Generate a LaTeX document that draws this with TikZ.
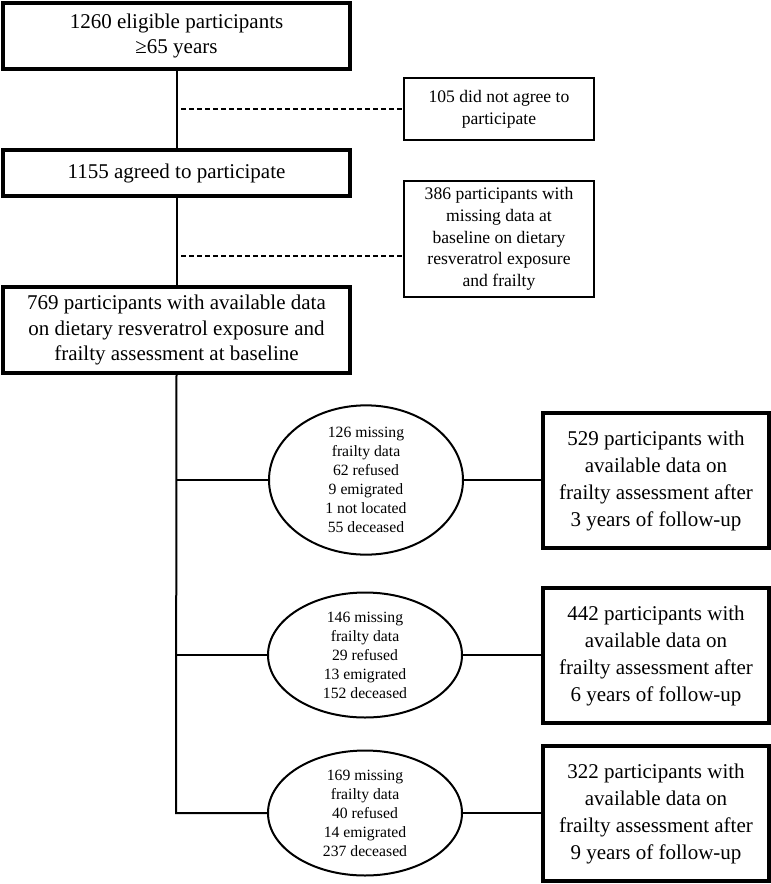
\documentclass[tikz,border=0pt]{standalone}
\usepackage{fontspec}
\setmainfont{Liberation Serif}
\usetikzlibrary{shapes.geometric}
\tikzset{
  bigbox/.style={draw, line width=3.2pt, rectangle, inner sep=0pt, align=center, font=\fontsize{21}{25.5}\selectfont},
  sidebox/.style={draw, line width=2pt, rectangle, inner sep=0pt, align=center, font=\fontsize{17.6}{21.7}\selectfont},
  resbox/.style={draw, line width=3.2pt, rectangle, inner sep=0pt, align=center, font=\fontsize{21}{27}\selectfont},
  lossell/.style={draw, line width=2pt, ellipse, inner sep=0pt, align=center, minimum width=194pt, minimum height=125pt, font=\fontsize{15.7}{19}\selectfont},
  link/.style={line width=2pt},
  dashlink/.style={line width=2pt, dashed, dash pattern=on 5pt off 3pt},
}
\begin{document}
\begin{tikzpicture}[x=1pt,y=-1pt]
\useasboundingbox (0,0) rectangle (771,884);
\node[bigbox, minimum width=347pt, minimum height=66pt] (top) at (176.5,36) {1260 eligible participants\\ ≥65 years};
\node[sidebox, minimum width=190pt, minimum height=62pt] (nagree) at (499,109) {105 did not agree to\\ participate};
\node[bigbox, minimum width=347pt, minimum height=46pt] (agree) at (176.5,173) {1155 agreed to participate};
\node[sidebox, minimum width=190pt, minimum height=116pt] (miss) at (499,239) {386 participants with\\ missing data at\\ baseline on dietary\\ resveratrol exposure\\ and frailty};
\node[bigbox, minimum width=347pt, minimum height=86pt] (base) at (176.5,330) {769 participants with available data\\ on dietary resveratrol exposure and\\ frailty assessment at baseline};

\node[lossell] (e1) at (366,480) {126 missing\\ frailty data\\ 62 refused\\ 9 emigrated\\ 1 not located\\ 55 deceased};
\node[lossell] (e2) at (365,655) {146 missing\\ frailty data\\ 29 refused\\ 13 emigrated\\ 152 deceased};
\node[lossell] (e3) at (365,813) {169 missing\\ frailty data\\ 40 refused\\ 14 emigrated\\ 237 deceased};

\node[resbox, minimum width=226pt, minimum height=135pt] (r1) at (656,480.5) {529 participants with\\ available data on\\ frailty assessment after\\ 3 years of follow-up};
\node[resbox, minimum width=226pt, minimum height=135pt] (r2) at (656,655.5) {442 participants with\\ available data on\\ frailty assessment after\\ 6 years of follow-up};
\node[resbox, minimum width=226pt, minimum height=135pt] (r3) at (656,813.5) {322 participants with\\ available data on\\ frailty assessment after\\ 9 years of follow-up};

\draw[link] (top.south) -- (agree.north);
\draw[link] (agree.south) -- (base.north);
\coordinate (d1) at (181,109);
\coordinate (d2) at (181,256);
\draw[dashlink] (d1) -- (nagree.west |- d1);
\draw[dashlink] (d2) -- (miss.west |- d2);

\coordinate (t1) at (176,480);
\coordinate (t2) at (176,655);
\coordinate (t3) at (176,813);
\draw[link] (base.south) -- (t3) -- (e3.west);
\draw[link] (t1) -- (e1.west);
\draw[link] (t2) -- (e2.west);
\draw[link] (e1.east) -- (r1.west |- e1.east);
\draw[link] (e2.east) -- (r2.west |- e2.east);
\draw[link] (e3.east) -- (r3.west |- e3.east);
\end{tikzpicture}
\end{document}
